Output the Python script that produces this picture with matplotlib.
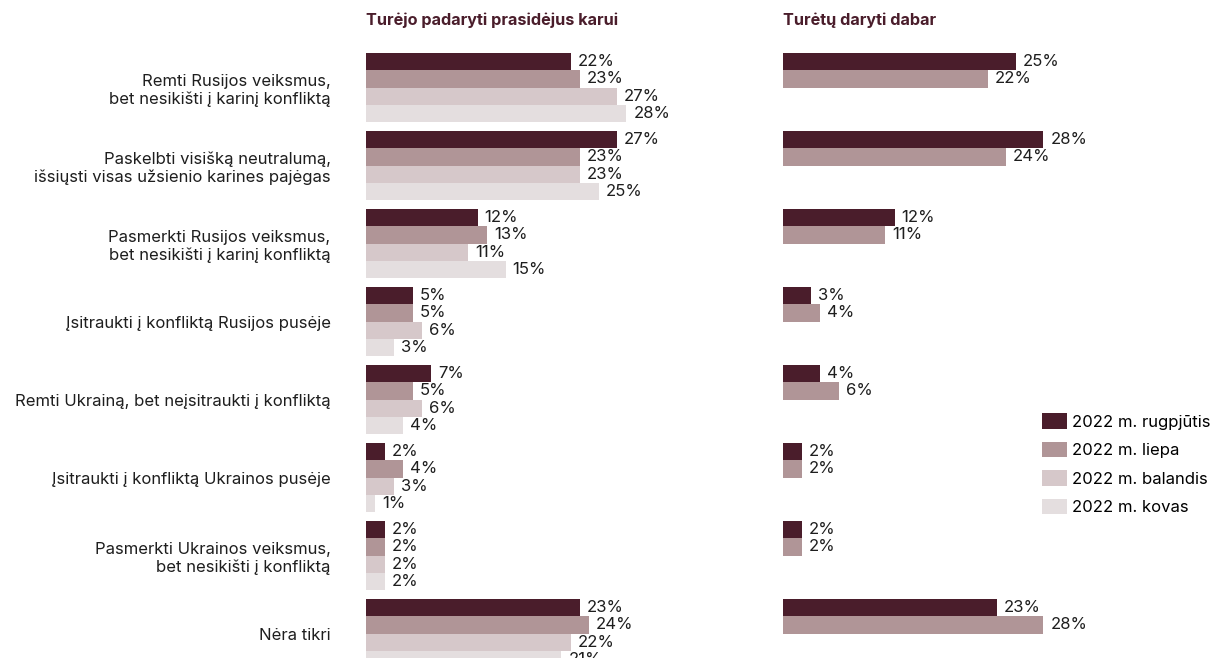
import matplotlib
matplotlib.use("Agg")
from matplotlib import pyplot as plt
from matplotlib.patches import Patch
import numpy as np

plt.rcParams['font.family'] = ['Inter', 'DejaVu Sans']

categories = [
    "Remti Rusijos veiksmus,\nbet nesikišti į karinį konfliktą",
    "Paskelbti visišką neutralumą,\nišsiųsti visas užsienio karines pajėgas",
    "Pasmerkti Rusijos veiksmus,\nbet nesikišti į karinį konfliktą",
    "Įsitraukti į konfliktą Rusijos pusėje",
    "Remti Ukrainą, bet neįsitraukti į konfliktą",
    "Įsitraukti į konfliktą Ukrainos pusėje",
    "Pasmerkti Ukrainos veiksmus,\nbet nesikišti į konfliktą",
    "Nėra tikri",
]
series = ["2022 m. rugpjūtis", "2022 m. liepa", "2022 m. balandis", "2022 m. kovas"]
colors = ["#4a1d2b", "#b09597", "#d6c8ca", "#e4dedf"]

# left panel: what should have been done when the war started
then_aug = [22, 27, 12, 5, 7, 2, 2, 23]
then_jul = [23, 23, 13, 5, 5, 4, 2, 24]
then_apr = [27, 23, 11, 6, 6, 3, 2, 22]
then_mar = [28, 25, 15, 3, 4, 1, 2, 21]

# right panel: what should be done now
now_aug = [25, 28, 12, 3, 4, 2, 2, 23]
now_jul = [22, 24, 11, 4, 6, 2, 2, 28]

titles = ["Turėjo padaryti prasidėjus karui", "Turėtų daryti dabar"]

W, H = 1220, 658
fig = plt.figure(figsize=(W / 100, H / 100), dpi=100)

px_per_pct = 9.3
xmax = 32
ax_w = xmax * px_per_pct
ax1 = fig.add_axes([366 / W, 0, ax_w / W, 618 / H])
ax2 = fig.add_axes([783 / W, 0, ax_w / W, 618 / H])

bar_h = 17.25 / 78
ypos = np.arange(len(categories))
txt_col = "#1e1e1e"
fs = 12


def draw(ax, data):
    for j, vals in enumerate(data):
        y = ypos + (j - 1.5) * bar_h
        ax.barh(y, vals, height=bar_h, color=colors[j], clip_on=True)
        for yy, v in zip(y, vals):
            ax.text(v + 0.75, yy, f"{v}%", va="center", ha="left",
                    fontsize=fs, color=txt_col, clip_on=False)
    ax.set_xlim(0, xmax)
    ax.set_ylim(7.314, -0.609)
    for s in ax.spines.values():
        s.set_visible(False)
    ax.set_xticks([])


draw(ax1, [then_aug, then_jul, then_apr, then_mar])
draw(ax2, [now_aug, now_jul])

ax1.set_yticks(ypos)
ax1.set_yticklabels(categories, fontsize=fs, color=txt_col, linespacing=1.18)
ax1.tick_params(axis="y", length=0, pad=25.5)
ax2.set_yticks([])

fig.text(366 / W, 1 - 20 / H, titles[0], fontsize=11.7, fontweight="bold",
         color="#4a1d2b", va="center", ha="left")
fig.text(783 / W, 1 - 20 / H, titles[1], fontsize=11.7, fontweight="bold",
         color="#4a1d2b", va="center", ha="left")

handles = [Patch(facecolor=c, edgecolor="none") for c in colors]
fig.legend(handles, series, loc="upper left",
           bbox_to_anchor=(1042 / W, 1 - 413 / H), frameon=False,
           fontsize=fs, handlelength=1.5, handleheight=1.08,
           handletextpad=0.3, labelspacing=0.72, borderpad=0,
           borderaxespad=0)

plt.savefig("out.png", dpi=100)
